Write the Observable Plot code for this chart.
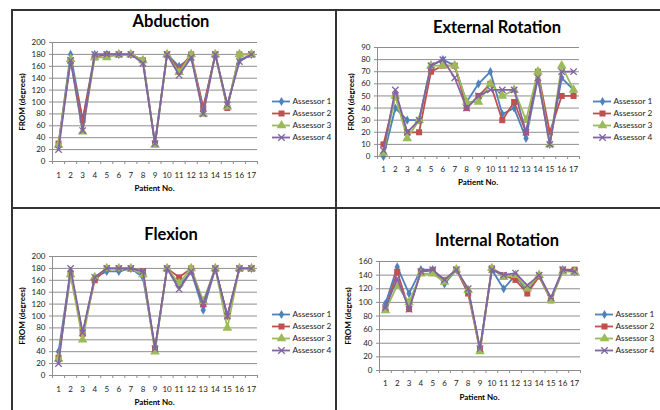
<!DOCTYPE html>
<html><head><meta charset="utf-8">
<script src="https://cdn.jsdelivr.net/npm/d3@7"></script>
<script src="https://cdn.jsdelivr.net/npm/@observablehq/plot@0.6"></script>
<style>
body{margin:0;background:#fff;}
#root{position:relative;width:660px;height:410px;overflow:hidden;font-family:Lato,"Open Sans",sans-serif;color:#000;}
.abs{position:absolute;}
.title{font-weight:bold;font-size:16.5px;white-space:nowrap;transform:translate(-50%,-50%);}
.xl{font-weight:bold;font-size:8px;white-space:nowrap;transform:translate(-50%,-50%);}
.yl{font-weight:bold;font-size:8px;white-space:nowrap;transform:translate(-50%,-50%) rotate(-90deg);}
.fr{position:absolute;background:#333;}
</style>
</head><body><div id="root"></div>
<script>
const patients = [1,2,3,4,5,6,7,8,9,10,11,12,13,14,15,16,17];
const assessors = ["Assessor 1","Assessor 2","Assessor 3","Assessor 4"];

// values per assessor (rows) for patients 1..17
const abduction = [
  [30,180,70,180,180,180,180,170,30,180,160,175,90,180,95,170,180],
  [30,170,70,175,180,180,180,170,30,180,155,180,90,180,90,180,180],
  [28,172,50,175,175,180,180,170,28,180,150,180,80,180,92,180,180],
  [20,170,52,180,180,180,180,165,30,180,145,175,80,180,95,168,180]
];
const externalRotation = [
  [0,40,30,30,75,80,75,45,60,70,35,40,15,65,10,65,55],
  [10,50,20,20,70,75,75,40,50,60,30,45,20,70,20,50,50],
  [3,50,15,30,75,75,75,45,45,60,50,55,30,70,10,75,55],
  [5,55,20,30,75,80,65,40,50,55,55,55,20,65,10,70,70]
];
const flexion = [
  [40,175,70,165,175,175,180,165,45,180,150,175,110,180,100,180,180],
  [30,170,70,160,180,180,180,175,45,180,165,180,120,180,100,180,180],
  [28,170,60,165,180,180,180,170,40,180,155,180,125,180,80,180,180],
  [20,180,72,165,180,180,180,175,45,180,145,175,120,180,100,180,180]
];
const internalRotation = [
  [98,152,113,148,148,127,148,118,32,148,120,140,115,140,105,148,145],
  [90,145,90,145,147,133,148,113,30,150,140,133,113,138,103,148,148],
  [88,125,100,142,142,130,148,118,28,150,137,140,120,140,103,145,145],
  [92,135,90,145,148,133,148,120,32,148,140,143,125,140,107,148,145]
];

// styles
const colors = ["#4F81BD","#C0504D","#9BBB59","#8064A2"];
const symbols = ["diamond","square","triangle","times"];
const radii = [2.8,3.4,3.6,3.0];
const gridColor = "#8e8e8e";
const fontFam = "Lato, 'Open Sans', sans-serif";

const panels = [
  {title:"Abduction", data:abduction, ymax:200, step:20,
   area:{l:52,r:257,t:42,b:161}, box:{l:12,t:12,w:322,h:194}, titleY:21, xlabY:188, ylabX:22, legend:{x:272,y:93}, tickOff:13},
  {title:"External Rotation", data:externalRotation, ymax:90, step:10,
   area:{l:377,r:579,t:47,b:156}, box:{l:338,t:12,w:322,h:194}, titleY:27, xlabY:182, ylabX:351, legend:{x:593,y:93}, tickOff:12},
  {title:"Flexion", data:flexion, ymax:200, step:20,
   area:{l:52,r:257,t:256,b:375}, box:{l:12,t:210,w:322,h:200}, titleY:234, xlabY:402, ylabX:22, legend:{x:272,y:306}, tickOff:13},
  {title:"Internal Rotation", data:internalRotation, ymax:160, step:20,
   area:{l:379,r:580,t:261,b:370}, box:{l:338,t:210,w:322,h:200}, titleY:240, xlabY:397, ylabX:348, legend:{x:595,y:306}, tickOff:12}
];

const root = document.getElementById("root");

function place(el, left, top){
  el.style.position = "absolute";
  el.style.left = left + "px";
  el.style.top = top + "px";
  root.appendChild(el);
}
function label(cls, text, x, y){
  const d = document.createElement("div");
  d.className = "abs " + cls;
  d.textContent = text;
  d.style.left = x + "px";
  d.style.top = y + "px";
  root.appendChild(d);
}

panels.forEach(cfg => {
  const rows = [];
  cfg.data.forEach((series, k) => series.forEach((v, i) => rows.push({patient: patients[i], value: v, k})));
  const yTicks = d3.range(0, cfg.ymax + cfg.step / 2, cfg.step);
  const bounds = patients.map(p => p - 0.5).concat([patients[patients.length - 1] + 0.5]);
  const a = cfg.area, b = cfg.box;
  const marks = [
    Plot.gridY(yTicks, {stroke: gridColor, strokeOpacity: 1, strokeWidth: 1}),
    Plot.ruleX([0.5], {stroke: gridColor, strokeWidth: 1}),
    Plot.ruleY([0], {stroke: gridColor, strokeWidth: 1}),
    Plot.axisY(yTicks, {tickSize: 3, tickPadding: 4, fontSize: 8, label: null, stroke: gridColor, fill: "#222"}),
    Plot.axisX(bounds, {tickSize: 3, tickFormat: () => "", label: null, stroke: gridColor}),
    Plot.axisX(patients, {tickSize: 0, tickPadding: cfg.tickOff - 2, fontSize: 8, label: null, fill: "#222", tickFormat: d => String(d)})
  ];
  for (let k = 0; k < 4; k++) {
    const sub = rows.filter(d => d.k === k);
    marks.push(Plot.line(sub, {x: "patient", y: "value", stroke: colors[k], strokeWidth: 1.8}));
    if (symbols[k] === "times") {
      marks.push(Plot.dot(sub, {x: "patient", y: "value", symbol: symbols[k], r: radii[k], stroke: colors[k], strokeWidth: 1.3, fill: "none"}));
    } else {
      marks.push(Plot.dot(sub, {x: "patient", y: "value", symbol: symbols[k], r: radii[k], fill: colors[k], stroke: "none"}));
    }
  }
  const svg = Plot.plot({
    width: b.w, height: b.h,
    marginLeft: a.l - b.l, marginRight: b.l + b.w - a.r,
    marginTop: a.t - b.t, marginBottom: b.t + b.h - a.b,
    x: {domain: [0.5, patients.length + 0.5]},
    y: {domain: [0, cfg.ymax]},
    style: {background: "transparent", fontFamily: fontFam, fontSize: "8px", overflow: "visible"},
    marks
  });
  place(svg, b.l, b.t);

  // legend drawn with Plot
  const lmarks = [];
  for (let k = 0; k < 4; k++) {
    lmarks.push(Plot.ruleY([assessors[k]], {y: d => d, x1: 0, x2: 1, stroke: colors[k], strokeWidth: 1.8}));
    if (symbols[k] === "times") {
      lmarks.push(Plot.dot([assessors[k]], {x: 0.5, y: d => d, symbol: symbols[k], r: radii[k], stroke: colors[k], strokeWidth: 1.3, fill: "none"}));
    } else {
      lmarks.push(Plot.dot([assessors[k]], {x: 0.5, y: d => d, symbol: symbols[k], r: radii[k], fill: colors[k], stroke: "none"}));
    }
    lmarks.push(Plot.text([assessors[k]], {x: 1, y: d => d, text: d => d, dx: 2, textAnchor: "start", fontSize: 8.3, fill: "#222"}));
  }
  const leg = Plot.plot({
    width: 70, height: 64, margin: 0,
    x: {domain: [0, 1], range: [2, 20], axis: null},
    y: {type: "point", domain: assessors, range: [6, 57], axis: null},
    style: {background: "transparent", fontFamily: fontFam, fontSize: "8px", overflow: "visible"},
    marks: lmarks
  });
  place(leg, cfg.legend.x - 2, cfg.legend.y - 6);

  label("title", cfg.title, b.l + b.w / 2 - 2, cfg.titleY);
  label("xl", "Patient No.", (a.l + a.r) / 2, cfg.xlabY);
  label("yl", "FROM (degrees)", cfg.ylabX, (a.t + a.b) / 2);
});

// frame lines
function fr(l, t, w, h){ const d = document.createElement("div"); d.className = "fr"; d.style.left = l + "px"; d.style.top = t + "px"; d.style.width = w + "px"; d.style.height = h + "px"; root.appendChild(d); }
fr(11, 9, 649, 2);
fr(11, 9, 2, 401);
fr(335, 9, 2, 401);
fr(11, 207, 649, 2);
</script>
</body></html>
